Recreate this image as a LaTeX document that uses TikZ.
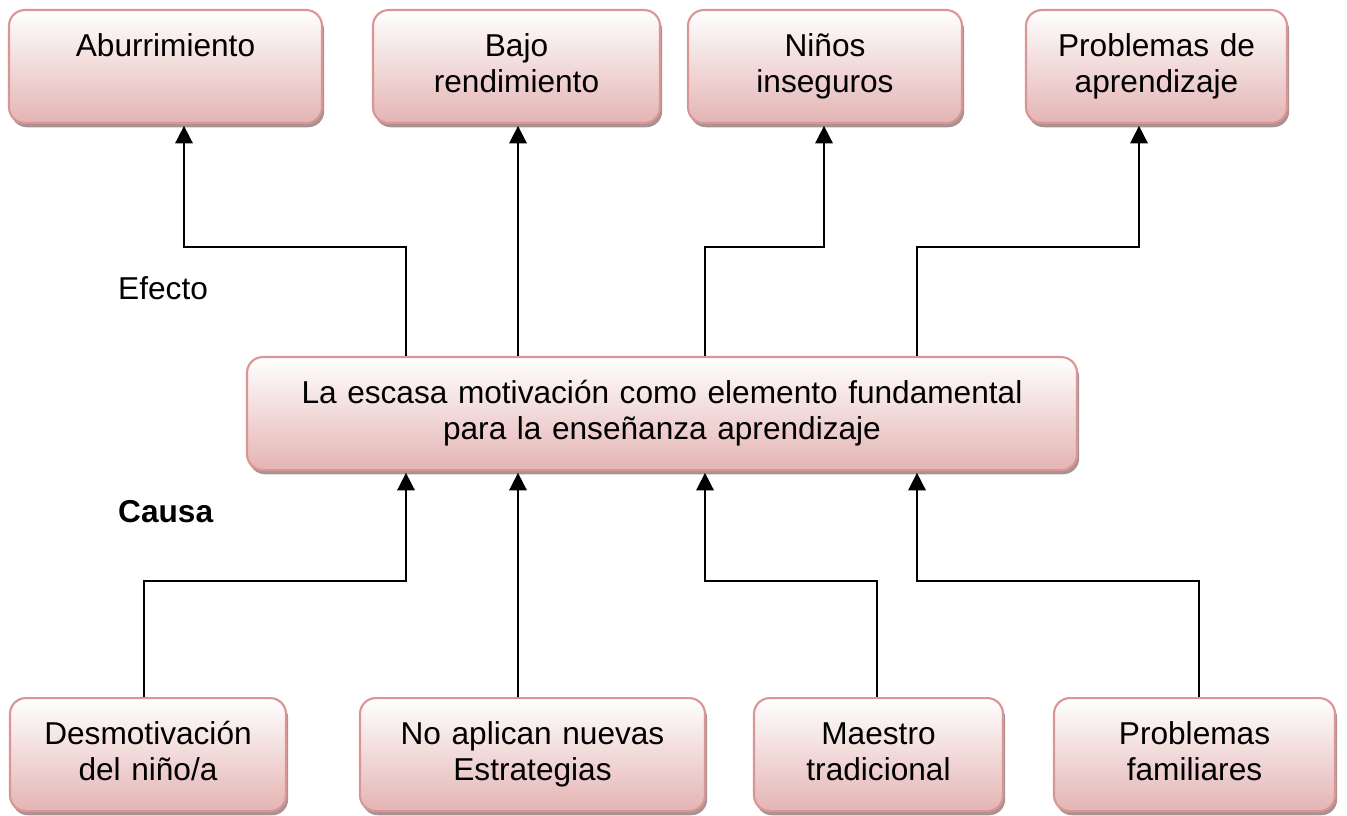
\documentclass[tikz,border=0pt]{standalone}
\usepackage{fontspec}
\setmainfont{Liberation Sans}
\usepackage{tikz}
\usetikzlibrary{arrows.meta,shadows}
\definecolor{boxedge}{HTML}{D99694}
\definecolor{boxfill}{HTML}{E4B4B3}
\definecolor{boxshade}{HTML}{A89292}
\tikzset{
    box/.style={rounded corners=9pt, draw=boxedge, line width=1.2pt, top color=white, bottom color=boxfill,
        drop shadow={shadow xshift=1.2pt, shadow yshift=-2.4pt, fill=boxshade, opacity=1},
        anchor=north, align=center, inner sep=0pt, text width=#1, text height=0.92cm, text depth=1.34cm},
    link/.style={line width=0.9pt, -{Triangle[length=10pt,width=10pt]}, shorten >=1pt}
}

\begin{document}
\begin{tikzpicture}[font=\fontsize{18}{20.8}\selectfont]
    \useasboundingbox (0, 0) rectangle (26.94, -16.32);

    \node[box=6.26cm] (abur) at (3.31, -0.18) {Aburrimiento};
    \node[box=5.74cm] (bajo) at (10.33, -0.18) {Bajo\\rendimiento};
    \node[box=5.48cm] (ninos) at (16.5, -0.18) {Niños\\inseguros};
    \node[box=5.22cm] (probap) at (23.13, -0.18) {Problemas de\\aprendizaje};

    \node[box=16.6cm] (mot) at (13.24, -7.12) {La escasa motivación como elemento fundamental\\para la enseñanza aprendizaje};

    \node[box=5.52cm] (desm) at (2.96, -13.94) {Desmotivación\\del niño/a};
    \node[box=6.9cm] (noap) at (10.65, -13.94) {No aplican nuevas\\Estrategias};
    \node[box=4.98cm] (maes) at (17.57, -13.94) {Maestro\\tradicional};
    \node[box=5.62cm] (probfam) at (23.89, -13.94) {Problemas\\familiares};

    \node[anchor=base west] (efecto) at (2.24, -6.0) {Efecto};
    \node[anchor=base west] (causa) at (2.24, -10.44) {\textbf{Causa}};

    \draw[link] ([xshift=-5.12cm]mot.north) -- ++(0, 2.18) -| ([xshift=0.37cm]abur.south);
    \draw[link] ([xshift=-2.88cm]mot.north) -- ([xshift=0.03cm]bajo.south);
    \draw[link] ([xshift=0.86cm]mot.north) -- ++(0, 2.18) -| ([xshift=-0.02cm]ninos.south);
    \draw[link] ([xshift=5.1cm]mot.north) -- ++(0, 2.18) -| ([xshift=-0.35cm]probap.south);

    \draw[link] ([xshift=-0.08cm]desm.north) -- ++(0, 2.32) -| ([xshift=-5.12cm]mot.south);
    \draw[link] ([xshift=-0.29cm]noap.north) -- ([xshift=-2.88cm]mot.south);
    \draw[link] ([xshift=-0.03cm]maes.north) -- ++(0, 2.32) -| ([xshift=0.86cm]mot.south);
    \draw[link] ([xshift=0.09cm]probfam.north) -- ++(0, 2.32) -| ([xshift=5.1cm]mot.south);
\end{tikzpicture}
\end{document}
